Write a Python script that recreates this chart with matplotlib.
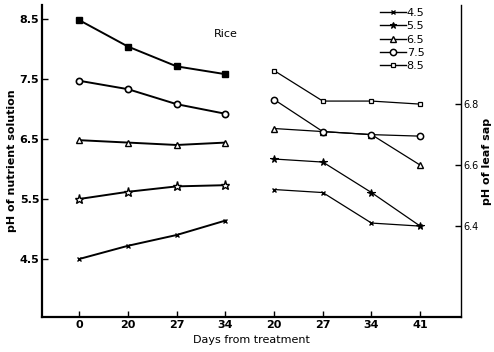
import matplotlib
matplotlib.use("Agg")
import matplotlib.pyplot as plt
from matplotlib.lines import Line2D

# ---- data ----
days_solution = ["0", "20", "27", "34"]
days_sap = ["20", "27", "34", "41"]
levels = ["4.5", "5.5", "6.5", "7.5", "8.5"]

# pH of nutrient solution (left axis)
sol_45 = [4.50, 4.72, 4.90, 5.14]
sol_55 = [5.50, 5.62, 5.71, 5.73]
sol_65 = [6.48, 6.44, 6.40, 6.44]
sol_75 = [7.47, 7.33, 7.08, 6.92]
sol_85 = [8.48, 8.04, 7.71, 7.58]

# pH of leaf sap (right axis)
sap_45 = [6.52, 6.51, 6.41, 6.40]
sap_55 = [6.62, 6.61, 6.51, 6.40]
sap_65 = [6.72, 6.71, 6.70, 6.60]
sap_75 = [6.815, 6.71, 6.70, 6.695]
sap_85 = [6.91, 6.81, 6.81, 6.80]

left_ticks = [4.5, 5.5, 6.5, 7.5, 8.5]
right_ticks = [6.4, 6.6, 6.8]

# ---- figure ----
W, H = 494, 352
fig = plt.figure(figsize=(W / 100, H / 100), dpi=100)
ax = fig.add_axes([42 / W, 1 - 317 / H, (461 - 42) / W, (317 - 5) / H])
ax2 = ax.twinx()

xs_left = list(range(len(days_solution)))
xs_right = [i + len(days_solution) for i in range(len(days_sap))]

left_styles = {
    "4.5": dict(marker="x", ms=3.5, mfc="black", mew=1.0),
    "5.5": dict(marker="*", ms=6.5, mfc="white", mew=1.0),
    "6.5": dict(marker="^", ms=4.5, mfc="white", mew=1.0),
    "7.5": dict(marker="o", ms=4.5, mfc="white", mew=1.2),
    "8.5": dict(marker="s", ms=4, mfc="black", mew=1.0),
}
right_styles = {
    "4.5": dict(marker="x", ms=3, mfc="black", mew=1.0),
    "5.5": dict(marker="*", ms=5.5, mfc="black", mew=0.8),
    "6.5": dict(marker="^", ms=4, mfc="white", mew=1.0),
    "7.5": dict(marker="o", ms=4.5, mfc="white", mew=1.1),
    "8.5": dict(marker="s", ms=3, mfc="white", mew=0.9),
}
sols = [sol_45, sol_55, sol_65, sol_75, sol_85]
saps = [sap_45, sap_55, sap_65, sap_75, sap_85]

for lvl, s, sp in zip(levels, sols, saps):
    ax.plot(xs_left, s, color="black", lw=1.4, mec="black", **left_styles[lvl])
    ax2.plot(xs_right, sp, color="black", lw=0.9, mec="black", **right_styles[lvl])

ax.set_xlim(-0.766, 7.838)
ax.set_ylim(3.533, 8.733)
ax2.set_ylim(6.102, 7.125)

ax.set_xticks(xs_left + xs_right)
ax.set_xticklabels(days_solution + days_sap, fontsize=8, fontweight="bold")
ax.set_yticks(left_ticks)
ax.set_yticklabels([str(t) for t in left_ticks], fontsize=8, fontweight="bold")
ax2.set_yticks(right_ticks)
ax2.set_yticklabels([str(t) for t in right_ticks], fontsize=7)

for a in (ax, ax2):
    a.spines["top"].set_visible(False)
    a.tick_params(direction="in", length=4, width=1, pad=2)
ax.spines["right"].set_visible(False)
ax.spines["left"].set_linewidth(1.6)
ax.spines["bottom"].set_linewidth(1.6)
ax2.spines["left"].set_visible(False)
ax2.spines["bottom"].set_visible(False)
ax2.spines["right"].set_linewidth(1.0)

ax.set_xlabel("Days from treatment", fontsize=8, labelpad=4)
ax.set_ylabel("pH of nutrient solution", fontsize=8, fontweight="bold", labelpad=2)
ax2.set_ylabel("pH of leaf sap", fontsize=8, fontweight="bold", labelpad=2)

fig.text(226 / W, 1 - 34 / H, "Rice", fontsize=8, ha="center", va="center")

handles = []
for lvl in levels:
    st = dict(right_styles[lvl])
    st["ms"] = min(st["ms"], 4.5)
    handles.append(Line2D([], [], color="black", lw=1.0, mec="black", **st))
fig.legend(handles, levels, loc="upper left", bbox_to_anchor=(380 / W, 1 - 8 / H),
           frameon=False, fontsize=8, handlelength=2.3, handletextpad=0.1,
           labelspacing=0.3, borderpad=0, borderaxespad=0)

fig.savefig("out.png", dpi=100)
